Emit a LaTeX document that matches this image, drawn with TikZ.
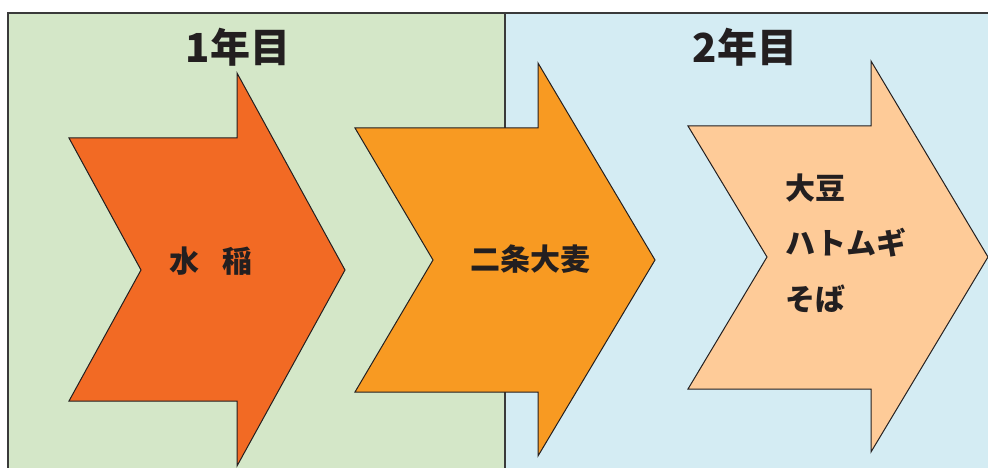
\documentclass[tikz,border=0pt]{standalone}
\usepackage{fontspec}
\newfontfamily\jp{Noto Sans CJK JP}
\definecolor{pgreen}{HTML}{D4E7C8}
\definecolor{pblue}{HTML}{D4ECF3}
\definecolor{arrA}{HTML}{F26A24}
\definecolor{arrB}{HTML}{F89A22}
\definecolor{arrC}{HTML}{FECB98}
\definecolor{ink}{HTML}{231F20}
\definecolor{frame}{HTML}{3A3A3A}
\tikzset{
  panel/.style={draw=frame, line width=1.5pt},
  chevron/.style={draw=ink, line width=1pt, line join=miter},
  title/.style={font=\jp\bfseries\fontsize{40}{48}\selectfont, text=ink, inner sep=0pt},
  label/.style={font=\jp\bfseries\fontsize{30}{55.5}\selectfont, text=ink, inner sep=0pt},
}
\begin{document}
\begin{tikzpicture}[x=1pt, y=-1pt]
\useasboundingbox (0,0) rectangle (988,468);
\clip (0,0) rectangle (988,468);
% panels
\path[panel, fill=pgreen] (8,13) rectangle (505,480);
\path[panel, fill=pblue] (505,13) rectangle (1000,480);
% chevrons
\path[chevron, fill=arrA] (69,138) -- (237,138) -- (237,73) -- (345,270) -- (237,466) -- (237,401) -- (69,401) -- (141,270) -- cycle;
\path[chevron, fill=arrB] (355,128) -- (538,128) -- (538,63) -- (655,260) -- (538,456) -- (538,392) -- (355,392) -- (433,260) -- cycle;
\path[chevron, fill=arrC] (688,126) -- (871,126) -- (871,61) -- (988,257) -- (871,452) -- (871,389) -- (688,389) -- (767,257) -- cycle;
% titles
\node[title] (y1) at (238,47) {1年目};
\node[title] (y2) at (745,47) {2年目};
% labels
\node[label] (rice) at (211,261) {水\hspace{23pt}稲};
\node[label] (barley) at (530,259) {二条大麦};
\node[label, anchor=west, align=left] (crops) at (785,243) {大豆\\ハトムギ\\そば};
\end{tikzpicture}
\end{document}
